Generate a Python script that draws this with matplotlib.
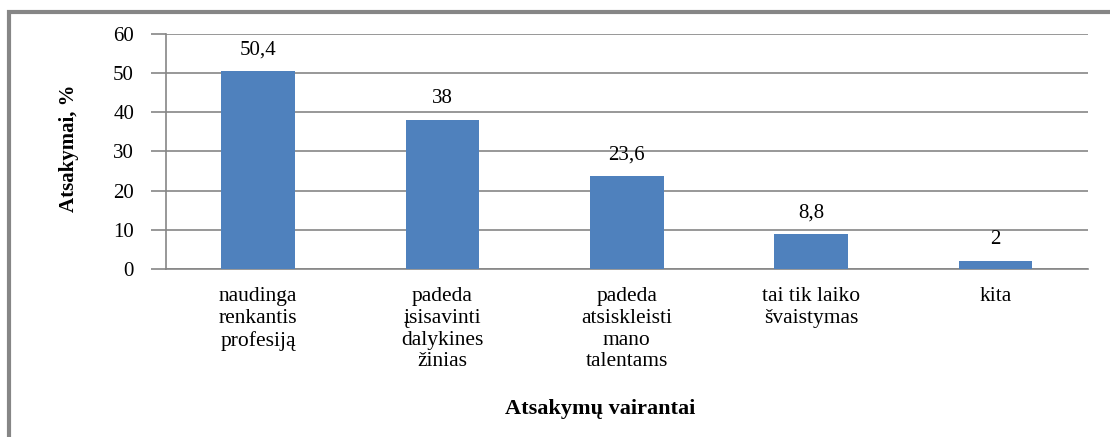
import matplotlib.pyplot as plt
from matplotlib.patches import Rectangle

categories = ['naudinga\nrenkantis\nprofesiją', 'padeda\nįsisavinti\ndalykines\nžinias',
              'padeda\natsiskleisti\nmano\ntalentams', 'tai tik laiko\nšvaistymas', 'kita']
values = [50.4, 38, 23.6, 8.8, 2]
value_labels = ['50,4', '38', '23,6', '8,8', '2']
yticks = [0, 10, 20, 30, 40, 50, 60]

plt.rcParams['font.family'] = ['Liberation Serif', 'DejaVu Serif']

fig = plt.figure(figsize=(11.1, 4.37), dpi=100)
ax = fig.add_axes([0.1495, 0.3844, 0.8305, 0.5389])

x = range(len(values))
bars = ax.bar(x, values, width=0.4, color='#4F81BD', zorder=3)
for xi, v, lab in zip(x, values, value_labels):
    ax.text(xi, v + 3, lab, ha='center', va='bottom', fontsize=15)

ax.set_xlim(-0.5, len(values) - 0.5)
ax.set_ylim(0, 60)
ax.set_yticks(yticks)
ax.set_yticklabels([str(t) for t in yticks], fontsize=15)
ax.yaxis.grid(True, color='#868686', linewidth=1.2, zorder=0)
ax.tick_params(axis='y', length=11, width=1.2, color='#868686', pad=12)
ax.tick_params(axis='x', length=0, pad=13)
ax.set_xticks(list(x))
ax.set_xticklabels(categories, fontsize=15.5, linespacing=1.2, va='top')
for s in ['top', 'right']:
    ax.spines[s].set_visible(False)
for s in ['left', 'bottom']:
    ax.spines[s].set_color('#868686')
    ax.spines[s].set_linewidth(1.2)

fig.text(0.062, 0.66, 'Atsakymai, %', rotation=90, ha='center', va='center',
         fontsize=15, fontweight='bold')
fig.text(0.541, 0.064, 'Atsakymų vairantai', ha='center', va='center',
         fontsize=16, fontweight='bold')

fig.patches.append(Rectangle((8.5 / 1110, -0.1), 1.2, 1.1 - 12.5 / 437, transform=fig.transFigure,
                             fill=False, edgecolor='#868686', linewidth=3, zorder=0))

fig.savefig('out.png', dpi=100)
